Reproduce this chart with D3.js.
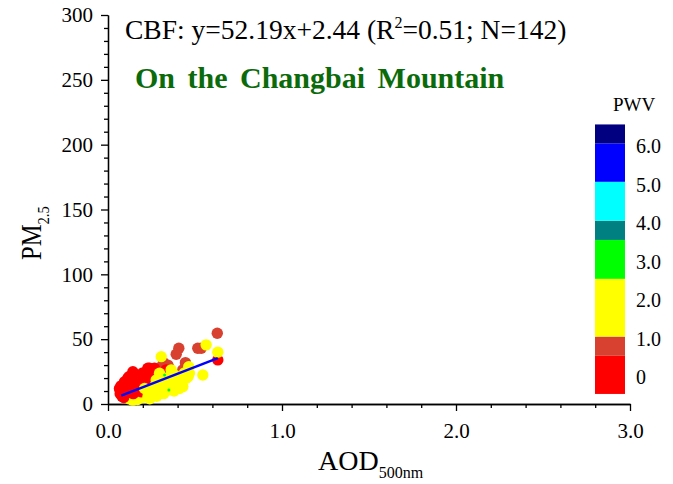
<!DOCTYPE html>
<html>
<head>
<meta charset="utf-8">
<script src="https://cdn.jsdelivr.net/npm/d3@7"></script>
<style>
  html, body { margin: 0; padding: 0; background: #ffffff; }
  svg { display: block; }
  text { font-family: "Liberation Serif", "Times New Roman", serif; fill: #000; }
</style>
</head>
<body>
<svg id="chart" width="673" height="484"></svg>
<script>
// PM2.5 against AOD at 500 nm, coloured by precipitable water vapour (PWV).
// Points are listed in drawing order.
const aod = [
  // PWV 0.5-1.0
  0.628,0.516,0.536,0.407,0.392,0.319,0.445,0.43,0.248,0.286,0.315,0.133,0.344,0.162,0.114,0.143,0.2,0.26,0.18,0.12,0.3,0.35,
  // PWV 1.0-2.5, low-AOD group (drawn beneath)
  0.152,0.21,0.143,0.18,0.2,0.12,0.17,0.22,0.19,0.16,0.13,0.15,
  // PWV < 0.5
  0.631,0.334,0.239,0.143,0.095,0.114,0.171,0.229,0.267,0.296,0.085,0.066,0.076,0.171,0.19,0.257,0.334,0.41,0.248,0.08,
  0.1,0.12,0.13,0.15,0.16,0.18,0.2,0.21,0.22,0.09,0.11,0.14,0.2,0.24,0.27,0.3,0.07,0.1,0.12,0.25,
  0.28,0.07,0.09,0.105,0.125,0.135,0.155,0.165,0.185,0.195,0.215,0.23,0.26,0.285,0.31,0.075,0.095,0.115,0.145,0.175,
  // PWV 1.0-2.5
  0.564,0.631,0.306,0.464,0.545,0.468,0.43,0.363,0.248,0.315,0.306,0.277,0.353,0.43,0.449,0.382,0.286,0.296,0.23,0.26,
  0.33,0.38,0.28,0.36,0.4,0.32,0.24,0.34,0.37,0.42,0.27,0.25,0.3,0.35,0.39,0.44,0.41,0.29,0.32,0.21,
  0.27,0.33,0.36,0.23,0.46,0.38,
  // PWV 2.5-3.5
  0.325,0.35
];
const pm25 = [
  54.6,43,43,43,38.4,31.9,31.9,26.3,22.4,26.3,30,9.5,30,17.2,7,4.4,18,24,13,12,28,28,
  5.6,7,3,8,5,4,3.5,9,6,5,6,7,
  34,26.3,27.6,24.9,17.2,19.8,21,27.6,27.6,21,12.1,12,9.5,12,9.5,25,23.7,16,16,6,
  8,14,16,18,15,17,14,19,22,10,11,12,24,20,19,17,8,15,21,13,
  15,11,5,13,9,18,22,10,20,16,13,17,22,24,23,14,7,17,8,14,
  45.6,40,36.5,28.8,22.4,23.7,21,26.3,9.5,14.7,9.5,18.5,17.2,13.4,19.8,22.4,9.5,23.7,11,12,
  12,10,6,15,18,20,4,19,13,16,14,7,12,11,20,24,12,16,8,12,
  10,16,22,6,21,17,
  22.4,10.8
];
const pwv = [
  0.8,0.8,0.8,0.8,0.8,0.8,0.8,0.8,0.8,0.8,0.8,0.8,0.8,0.8,0.8,0.8,0.8,0.8,0.8,0.8,0.8,0.8,
  1.6,1.6,1.6,1.6,1.6,1.6,1.6,1.6,1.6,1.6,1.6,1.6,
  0.3,0.3,0.3,0.3,0.3,0.3,0.3,0.3,0.3,0.3,0.3,0.3,0.3,0.3,0.3,0.3,0.3,0.3,0.3,0.3,
  0.3,0.3,0.3,0.3,0.3,0.3,0.3,0.3,0.3,0.3,0.3,0.3,0.3,0.3,0.3,0.3,0.3,0.3,0.3,0.3,
  0.3,0.3,0.3,0.3,0.3,0.3,0.3,0.3,0.3,0.3,0.3,0.3,0.3,0.3,0.3,0.3,0.3,0.3,0.3,0.3,
  1.6,1.6,1.6,1.6,1.6,1.6,1.6,1.6,1.6,1.6,1.6,1.6,1.6,1.6,1.6,1.6,1.6,1.6,1.6,1.6,
  1.6,1.6,1.6,1.6,1.6,1.6,1.6,1.6,1.6,1.6,1.6,1.6,1.6,1.6,1.6,1.6,1.6,1.6,1.6,1.6,
  1.6,1.6,1.6,1.6,1.6,1.6,
  3.0,3.0
];

// Linear fit
const fitSlope = 52.19;
const fitIntercept = 2.44;
const fitRange = [0.076, 0.631];

// Axis ticks
const xMajorTicks = [0, 1, 2, 3];
const xTickLabels = ["0.0", "1.0", "2.0", "3.0"];
const yMajorTicks = [0, 50, 100, 150, 200, 250, 300];

// Colour bar for PWV
const pwvBreaks = [-0.44, 0.55, 1.05, 2.55, 3.56, 4.06, 5.07, 6.07, 6.56];
const pwvColors = ["#ff0000", "#d84030", "#ffff00", "#00ff00", "#008080", "#00ffff", "#0000ff", "#000080"];
const pwvTicks = [0, 1, 2, 3, 4, 5, 6];
const pwvTickLabels = ["0", "1.0", "2.0", "3.0", "4.0", "5.0", "6.0"];

const svg = d3.select("#chart");

const x = d3.scaleLinear().domain([0, 3]).range([108, 630]);
const y = d3.scaleLinear().domain([0, 300]).range([404, 15]);

const color = d3.scaleThreshold()
  .domain(pwvBreaks.slice(1, -1))
  .range(pwvColors);

// Axes: minor ticks first, then majors with labels
const xMinor = d3.range(0, 3.0001, 0.2).filter(v => Math.abs(v - Math.round(v)) > 1e-6);
const yMinor = d3.range(0, 300.0001, 10).filter(v => v % 50 !== 0);

const axisStyle = g => {
  g.selectAll("path, line").attr("stroke", "#000").attr("stroke-width", 1.3);
};
const labelStyle = g => g.selectAll("text")
  .attr("font-size", 21).attr("font-family", "Liberation Serif, serif").attr("fill", "#000");

svg.append("g")
  .attr("transform", "translate(0,404)")
  .call(d3.axisBottom(x).tickValues(xMinor).tickSize(4).tickSizeOuter(0).tickFormat(""))
  .call(axisStyle);
svg.append("g")
  .attr("transform", "translate(0,404)")
  .call(d3.axisBottom(x).tickValues(xMajorTicks).tickSize(7).tickSizeOuter(0).tickPadding(12)
    .tickFormat((d, i) => xTickLabels[i]))
  .call(axisStyle)
  .call(labelStyle);

svg.append("g")
  .attr("transform", "translate(108,0)")
  .call(d3.axisLeft(y).tickValues(yMinor).tickSize(4).tickSizeOuter(0).tickFormat(""))
  .call(axisStyle);
svg.append("g")
  .attr("transform", "translate(108,0)")
  .call(d3.axisLeft(y).tickValues(yMajorTicks).tickSize(7).tickSizeOuter(0).tickPadding(8)
    .tickFormat(d3.format("d")))
  .call(axisStyle)
  .call(labelStyle);

// Scatter points
const points = d3.range(aod.length).map(i => ({ aod: aod[i], pm: pm25[i], pwv: pwv[i] }));
svg.append("g")
  .selectAll("circle")
  .data(points)
  .join("circle")
  .attr("cx", d => x(d.aod))
  .attr("cy", d => y(d.pm))
  .attr("r", d => d.pwv >= 2.55 ? 1.5 : 5.7)
  .attr("fill", d => color(d.pwv));

// Regression line
svg.append("line")
  .attr("x1", x(fitRange[0])).attr("y1", y(fitSlope * fitRange[0] + fitIntercept))
  .attr("x2", x(fitRange[1])).attr("y2", y(fitSlope * fitRange[1] + fitIntercept))
  .attr("stroke", "#0000ff").attr("stroke-width", 2.5);

// Fit equation
const eq = svg.append("text").attr("x", 125).attr("y", 39).attr("font-size", 27.5);
eq.append("tspan").text("CBF: y=52.19x+2.44 (R");
eq.append("tspan").attr("font-size", 16).attr("dy", -11).text("2");
eq.append("tspan").attr("dy", 11).text("=0.51; N=142)");

// Site title
svg.append("text")
  .attr("x", 135).attr("y", 88)
  .attr("font-size", 30).attr("font-weight", "bold")
  .style("fill", "#0b6b0b")
  .attr("word-spacing", 5)
  .text("On the Changbai Mountain");

// Axis titles
const xt = svg.append("text").attr("x", 318).attr("y", 470).attr("font-size", 28);
xt.append("tspan").text("AOD");
xt.append("tspan").attr("font-size", 16).attr("dy", 8).text("500nm");

const yt = svg.append("text")
  .attr("transform", "translate(41,260) rotate(-90) scale(0.85,1)")
  .attr("font-size", 29);
yt.append("tspan").text("PM");
yt.append("tspan").attr("font-size", 17).attr("dy", 8).text("2.5");

// Colour bar
const cb = d3.scaleLinear().domain([0, 6]).range([377, 146]);
const bands = d3.range(pwvColors.length).map(i => ({ lo: pwvBreaks[i], hi: pwvBreaks[i + 1], c: pwvColors[i] }));
svg.append("g")
  .selectAll("rect")
  .data(bands)
  .join("rect")
  .attr("x", 595).attr("width", 30)
  .attr("y", d => cb(d.hi))
  .attr("height", d => cb(d.lo) - cb(d.hi))
  .attr("fill", d => d.c);

svg.append("g")
  .selectAll("text")
  .data(pwvTicks)
  .join("text")
  .attr("x", 636)
  .attr("y", d => cb(d) + 7)
  .attr("font-size", 20)
  .text((d, i) => pwvTickLabels[i]);

svg.append("text")
  .attr("x", 613).attr("y", 111)
  .attr("font-size", 19)
  .text("PWV");
</script>
</body>
</html>
